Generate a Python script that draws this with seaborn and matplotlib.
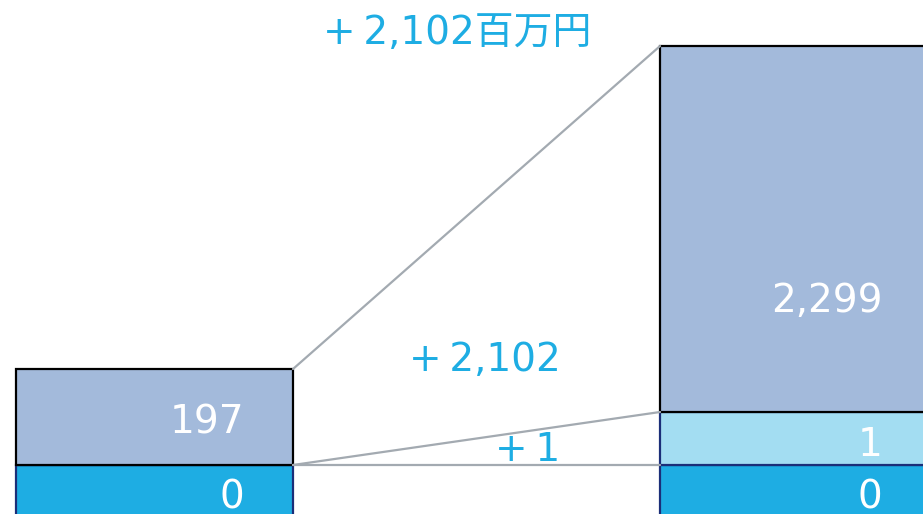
import numpy as np
import pandas as pd
import matplotlib
matplotlib.use("Agg")
import matplotlib.pyplot as plt
import seaborn as sns

# ---- data ----
bars = ["前期", "当期"]
base_values = [0, 0]          # bottom segment values (百万円)
mid_values = [None, 1]        # middle segment values
top_values = [197, 2299]      # top segment values
# drawn segment lengths as they appear in the picture (stylised, not proportional)
base_len = [53, 53]
mid_len = [0, 53]
top_len = [96, 366]
change_total = "+\u20092,102百万円"
change_top = "+\u20092,102"
change_mid = "+\u20091"

sns.set_theme(style="white")
plt.rcParams['font.family'] = ['DejaVu Sans', 'Noto Sans CJK JP']

C_BASE = "#1EADE3"
C_MID = "#A3DDF2"
C_TOP = "#A3BADB"
C_TXT = "#1EADE3"
C_LINE = "#A3AAB1"
NAVY = "#1B2E78"

fig = plt.figure(figsize=(9.23, 5.14), dpi=100)
ax = fig.add_axes([0, 0, 1, 1])

df = pd.DataFrame({"bar": bars, "base": base_len, "mid": mid_len, "top": top_len})
df["mid_bottom"] = df["base"]
df["top_bottom"] = df["base"] + df["mid"]
W = 0.43

sns.barplot(data=df, x="bar", y="base", color=C_BASE, saturation=1, width=W,
            edgecolor=NAVY, linewidth=1.6, ax=ax)
sns.barplot(data=df, x="bar", y="mid", color=C_MID, saturation=1, width=W,
            bottom=df["mid_bottom"].to_numpy(), edgecolor=NAVY, linewidth=1.6, ax=ax)
sns.barplot(data=df, x="bar", y="top", color=C_TOP, saturation=1, width=W,
            bottom=df["top_bottom"].to_numpy(), edgecolor="black", linewidth=1.6, ax=ax)

# connector lines
tops = (df["top_bottom"] + df["top"]).to_numpy()
xr0 = 0 + W / 2
xl1 = 1 - W / 2
ax.plot([xr0, xl1], [tops[0], tops[1]], color=C_LINE, lw=1.6, zorder=1)
ax.plot([xr0, xl1], [df["top_bottom"][0], df["top_bottom"][1]], color=C_LINE, lw=1.6, zorder=1)
ax.plot([xr0, xl1], [df["base"][0], df["base"][1]], color=C_LINE, lw=1.6, zorder=1)

# value labels
FS = 28
off = 0.14
for i in range(2):
    b0 = 0
    segs = [(base_values[i], base_len[i]), (mid_values[i], mid_len[i]), (top_values[i], top_len[i])]
    for val, ln in segs:
        if val is not None and ln > 0:
            y = b0 + min(ln / 2, 117) - 6
            ax.text(i + off - (0.01 if i == 1 else 0), y, f"{val:,}", color="white",
                    fontsize=FS, ha="right", va="center")
        b0 += ln

ax.text(0.47, 485, change_total, color=C_TXT, fontsize=FS, ha="center", va="center")
ax.text(0.513, 158, change_top, color=C_TXT, fontsize=FS, ha="center", va="center")
ax.text(0.58, 68, change_mid, color=C_TXT, fontsize=FS, ha="center", va="center")

ax.set_xlim(-0.24, 1.1933)
ax.set_ylim(4, 518)
ax.axis("off")

fig.savefig("out.png", dpi=100)
